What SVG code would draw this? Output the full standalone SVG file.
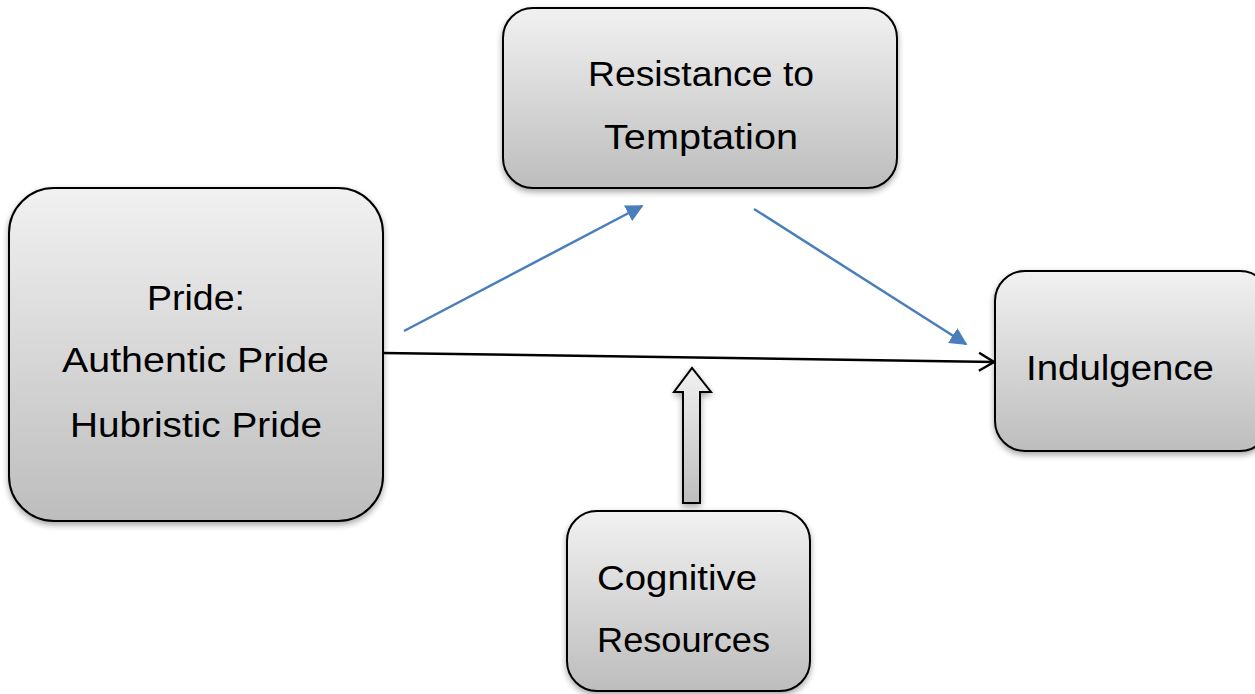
<svg xmlns="http://www.w3.org/2000/svg" width="1255" height="694" viewBox="0 0 1255 694">
<defs>
<linearGradient id="g" x1="0" y1="0" x2="0" y2="1">
<stop offset="0" stop-color="#f1f1f1"/>
<stop offset="1" stop-color="#bdbdbd"/>
</linearGradient>
<filter id="sh" x="-10%" y="-10%" width="120%" height="130%">
<feGaussianBlur in="SourceAlpha" stdDeviation="3"/>
<feOffset dx="0" dy="3" result="b"/>
<feComponentTransfer><feFuncA type="linear" slope="0.35"/></feComponentTransfer>
<feMerge><feMergeNode/><feMergeNode in="SourceGraphic"/></feMerge>
</filter>
<marker id="blue" viewBox="0 0 10 10" refX="9" refY="5" markerWidth="7" markerHeight="7" orient="auto" markerUnits="strokeWidth">
<path d="M0,0 L10,5 L0,10 z" fill="#4a7ebb"/>
</marker>
<marker id="open" viewBox="0 0 22 22" refX="21" refY="11" markerWidth="22" markerHeight="22" orient="auto" markerUnits="userSpaceOnUse">
<path d="M5,2 L20,11 L5,20" fill="none" stroke="#000" stroke-width="2.5"/>
</marker>
<style>
.box{fill:url(#g);stroke:#000;stroke-width:2;filter:url(#sh)}
.t{font-family:"Liberation Sans",Arial,sans-serif;font-size:35px;fill:#000}
.bl{stroke:#4a7ebb;stroke-width:2.5;fill:none;marker-end:url(#blue)}
</style>
</defs>
<g id="connectors">
<line x1="383" y1="353" x2="995" y2="362" stroke="#000" stroke-width="2.5" marker-end="url(#open)"/>
<line class="bl" x1="404" y1="331" x2="642" y2="206"/>
<line class="bl" x1="754" y1="209" x2="966" y2="344"/>
<path d="M683,503 L683,392 L674,392 L692,368 L711,392 L700,392 L700,503 Z" fill="url(#g)" stroke="#000" stroke-width="2" filter="url(#sh)"/>
</g>
<g id="node-pride">
<rect class="box" x="9" y="188" width="374" height="333" rx="45"/>
<text class="t" x="147" y="310" textLength="98" lengthAdjust="spacingAndGlyphs">Pride:</text>
<text class="t" x="62" y="372" textLength="267" lengthAdjust="spacingAndGlyphs">Authentic Pride</text>
<text class="t" x="70" y="437" textLength="252" lengthAdjust="spacingAndGlyphs">Hubristic Pride</text>
</g>
<g id="node-resistance">
<rect class="box" x="503" y="8" width="394" height="180" rx="30"/>
<text class="t" x="588" y="86" textLength="226" lengthAdjust="spacingAndGlyphs">Resistance to</text>
<text class="t" x="604" y="149" textLength="194" lengthAdjust="spacingAndGlyphs">Temptation</text>
</g>
<g id="node-indulgence">
<rect class="box" x="995" y="271" width="275" height="180" rx="30"/>
<text class="t" x="1026" y="380" textLength="188" lengthAdjust="spacingAndGlyphs">Indulgence</text>
</g>
<g id="node-cognitive">
<rect class="box" x="567" y="511" width="243" height="180" rx="30"/>
<text class="t" x="597" y="590" textLength="160" lengthAdjust="spacingAndGlyphs">Cognitive</text>
<text class="t" x="597" y="652" textLength="173" lengthAdjust="spacingAndGlyphs">Resources</text>
</g>
</svg>
